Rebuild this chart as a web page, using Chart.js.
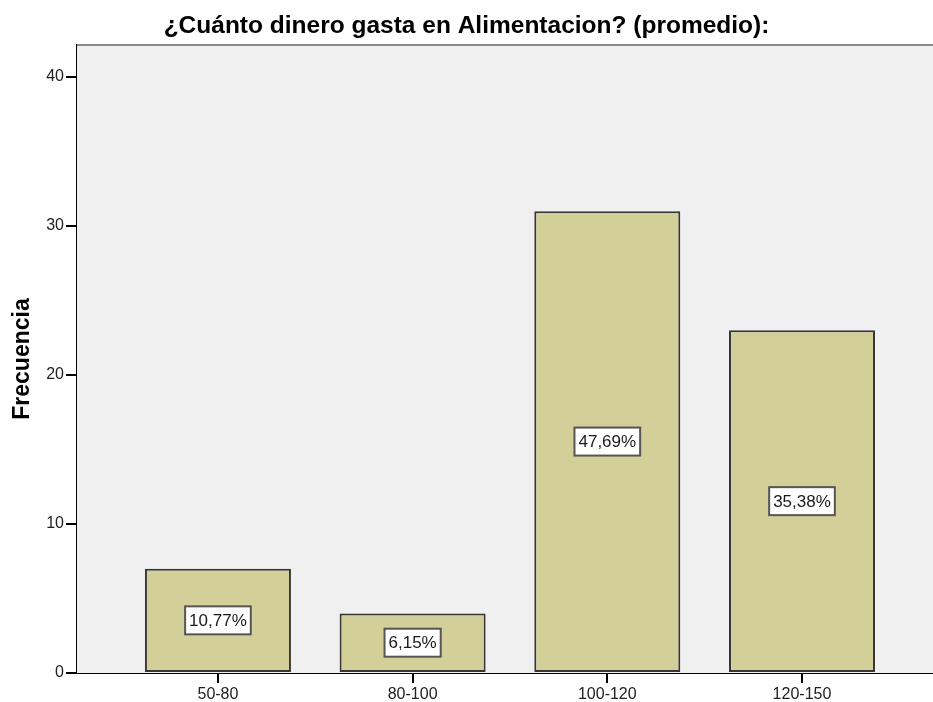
<!DOCTYPE html>
<html>
<head>
<meta charset="utf-8">
<script src="https://cdn.jsdelivr.net/npm/chart.js@4/dist/chart.umd.min.js"></script>
<style>
  html, body { margin: 0; padding: 0; background: #fff; }
  #wrap { width: 933px; height: 702px; position: relative; }
</style>
</head>
<body>
<div id="wrap"><canvas id="chart"></canvas></div>
<script>
const categories = ['50-80', '80-100', '100-120', '120-150'];
const frequencies = [7, 4, 31, 23];
const percentLabels = ['10,77%', '6,15%', '47,69%', '35,38%'];
const yTicks = [0, 10, 20, 30, 40];

const FONT = '"Liberation Sans", Arial, sans-serif';

// grey plot background and the thin top frame line
const plotFrame = {
    id: 'plotFrame',
    beforeDatasetsDraw(chart) {
        const { ctx, chartArea: a } = chart;
        ctx.save();
        ctx.fillStyle = '#f0f0f0';
        ctx.fillRect(a.left, a.top, a.right - a.left, a.bottom - a.top);
        ctx.strokeStyle = '#8a8a8a';
        ctx.lineWidth = 2;
        ctx.beginPath();
        ctx.moveTo(a.left, a.top);
        ctx.lineTo(a.right, a.top);
        ctx.stroke();
        ctx.restore();
    }
};

// white boxed percentage labels in the middle of each bar
const boxLabels = {
    id: 'boxLabels',
    afterDatasetsDraw(chart) {
        const { ctx } = chart;
        const meta = chart.getDatasetMeta(0);
        ctx.save();
        ctx.font = '17px ' + FONT;
        ctx.textAlign = 'center';
        ctx.textBaseline = 'middle';
        meta.data.forEach((bar, i) => {
            const text = percentLabels[i];
            const cx = bar.x;
            const cy = (bar.y + bar.base) / 2;
            const w = ctx.measureText(text).width + 8;
            const h = 28;
            ctx.fillStyle = '#ffffff';
            ctx.fillRect(cx - w / 2, cy - h / 2, w, h);
            ctx.strokeStyle = '#555555';
            ctx.lineWidth = 2;
            ctx.strokeRect(cx - w / 2, cy - h / 2, w, h);
            ctx.fillStyle = '#1a1a1a';
            ctx.fillText(text, cx, cy + 1);
        });
        ctx.restore();
    }
};

new Chart(document.getElementById('chart'), {
    type: 'bar',
    data: {
        datasets: [{
            data: frequencies.map((v, i) => ({ x: i + 1, y: v })),
            backgroundColor: '#d3cf98',
            borderColor: '#363636',
            borderWidth: 2,
            borderSkipped: false,
            categoryPercentage: 1,
            barPercentage: 0.75
        }]
    },
    options: {
        responsive: true,
        maintainAspectRatio: false,
        animation: false,
        layout: { padding: 0 },
        plugins: {
            legend: { display: false },
            tooltip: { enabled: false },
            title: {
                display: true,
                text: '¿Cuánto dinero gasta en Alimentacion? (promedio):',
                color: '#000',
                font: { family: FONT, size: 24.5, weight: 'bold', lineHeight: 1.2 },
                padding: { top: 12, bottom: 3.6 }
            }
        },
        scales: {
            x: {
                type: 'linear',
                min: 0.276,
                max: 4.673,
                offset: false,
                afterBuildTicks: axis => {
                    axis.ticks = categories.map((c, i) => ({ value: i + 1 }));
                },
                afterFit: axis => { axis.height = 29; },
                grid: {
                    offset: false,
                    drawOnChartArea: false,
                    color: '#000',
                    lineWidth: 2,
                    tickLength: 10
                },
                border: { color: '#000', width: 2 },
                ticks: {
                    color: '#222',
                    padding: 2,
                    font: { family: FONT, size: 16 },
                    callback: v => categories[v - 1] || ''
                }
            },
            y: {
                min: 0,
                max: 42.15,
                afterBuildTicks: axis => {
                    axis.ticks = yTicks.map(v => ({ value: v }));
                },
                afterFit: axis => { axis.width = 77; },
                grid: {
                    drawOnChartArea: false,
                    color: '#000',
                    lineWidth: 2,
                    tickLength: 11
                },
                border: { color: '#000', width: 2 },
                ticks: {
                    color: '#222',
                    padding: 2,
                    font: { family: FONT, size: 16 }
                },
                title: {
                    display: true,
                    text: 'Frecuencia',
                    color: '#000',
                    font: { family: FONT, size: 23, weight: 'bold', lineHeight: 1.2 },
                    padding: { top: 9, bottom: 0 }
                }
            }
        }
    },
    plugins: [plotFrame, boxLabels]
});
</script>
</body>
</html>
